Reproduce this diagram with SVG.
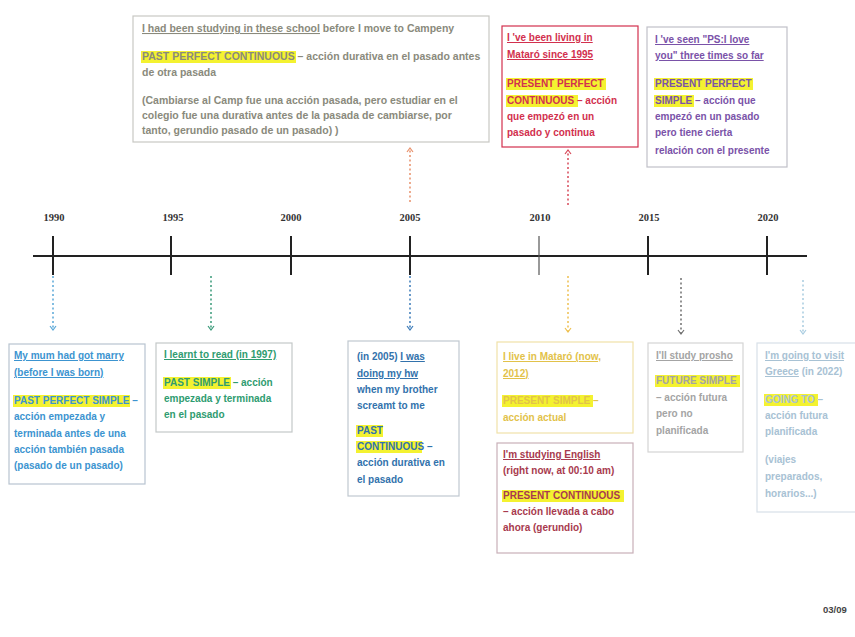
<svg xmlns="http://www.w3.org/2000/svg" width="855" height="637" viewBox="0 0 855 637">
<style>
  text { font-family: "Liberation Sans", Arial, sans-serif; font-size: 10px; font-weight: bold; }
  .yr { font-family: "Liberation Serif", "Times New Roman", serif; font-size: 10.5px; fill: #333; text-anchor: middle; }
  .box { fill: #ffffff; stroke-width: 1.2; }
  .hl { fill: #f4f230; }
  .u { text-decoration: underline; }
  .tick { stroke: #222; stroke-width: 2; }
  .conn { fill: none; stroke-width: 1.5; stroke-dasharray: 2 2.5; }
  .grey { fill: #8a8a7c; font-size: 10.5px; } .red { fill: #d2304e; } .purple { fill: #7a52a8; }
  .blue1 { fill: #3c94d0; } .green { fill: #2f9c70; } .blue2 { fill: #3272ac; }
  .gold { fill: #e2c24a; } .maroon { fill: #a83a4e; } .lgrey { fill: #a4a4a4; } .lblue { fill: #a8c2d4; }
</style>
<defs>
  <marker id="m-blue1" markerWidth="6" markerHeight="8" refX="5" refY="4" orient="auto" markerUnits="userSpaceOnUse" viewBox="0 0 6 8"><path d="M1,1 L5,4 L1,7" fill="none" stroke="#5aa8d8" stroke-width="1.2"/></marker>
  <marker id="m-green" markerWidth="6" markerHeight="8" refX="5" refY="4" orient="auto" markerUnits="userSpaceOnUse" viewBox="0 0 6 8"><path d="M1,1 L5,4 L1,7" fill="none" stroke="#3a9a7a" stroke-width="1.2"/></marker>
  <marker id="m-blue2" markerWidth="6" markerHeight="8" refX="5" refY="4" orient="auto" markerUnits="userSpaceOnUse" viewBox="0 0 6 8"><path d="M1,1 L5,4 L1,7" fill="none" stroke="#3a7ab8" stroke-width="1.2"/></marker>
  <marker id="m-yellow" markerWidth="6" markerHeight="8" refX="5" refY="4" orient="auto" markerUnits="userSpaceOnUse" viewBox="0 0 6 8"><path d="M1,1 L5,4 L1,7" fill="none" stroke="#eec050" stroke-width="1.2"/></marker>
  <marker id="m-grey" markerWidth="6" markerHeight="8" refX="5" refY="4" orient="auto" markerUnits="userSpaceOnUse" viewBox="0 0 6 8"><path d="M1,1 L5,4 L1,7" fill="none" stroke="#707070" stroke-width="1.2"/></marker>
  <marker id="m-lblue" markerWidth="6" markerHeight="8" refX="5" refY="4" orient="auto" markerUnits="userSpaceOnUse" viewBox="0 0 6 8"><path d="M1,1 L5,4 L1,7" fill="none" stroke="#a8cce0" stroke-width="1.2"/></marker>
  <marker id="m-orange" markerWidth="6" markerHeight="8" refX="5" refY="4" orient="auto" markerUnits="userSpaceOnUse" viewBox="0 0 6 8"><path d="M1,1 L5,4 L1,7" fill="none" stroke="#e8906a" stroke-width="1.2"/></marker>
  <marker id="m-red" markerWidth="6" markerHeight="8" refX="5" refY="4" orient="auto" markerUnits="userSpaceOnUse" viewBox="0 0 6 8"><path d="M1,1 L5,4 L1,7" fill="none" stroke="#d84a5a" stroke-width="1.2"/></marker>
</defs>
<rect width="855" height="637" fill="#ffffff"/>

<g id="timeline">
  <line x1="33" y1="256" x2="807" y2="256" stroke="#222" stroke-width="2"/>
  <line class="tick" x1="53" y1="236" x2="53" y2="275"/>
  <line class="tick" x1="171" y1="236" x2="171" y2="275"/>
  <line class="tick" x1="291" y1="236" x2="291" y2="275"/>
  <line class="tick" x1="410" y1="236" x2="410" y2="275"/>
  <line x1="539" y1="236" x2="539" y2="275" stroke="#555" stroke-width="1.2"/>
  <line class="tick" x1="648" y1="236" x2="648" y2="275"/>
  <line class="tick" x1="767" y1="236" x2="767" y2="275"/>
  <text class="yr" x="54" y="221">1990</text>
  <text class="yr" x="173" y="221">1995</text>
  <text class="yr" x="291" y="221">2000</text>
  <text class="yr" x="410" y="221">2005</text>
  <text class="yr" x="540" y="221">2010</text>
  <text class="yr" x="649" y="221">2015</text>
  <text class="yr" x="768" y="221">2020</text>
</g>

<g id="connectors">
  <line class="conn" x1="410" y1="202" x2="410" y2="148" stroke="#e8906a" marker-end="url(#m-orange)"/>
  <line class="conn" x1="568" y1="205" x2="568" y2="150" stroke="#d84a5a" marker-end="url(#m-red)"/>
  <line class="conn" x1="53" y1="276" x2="53" y2="330" stroke="#5aa8d8" marker-end="url(#m-blue1)"/>
  <line class="conn" x1="211" y1="276" x2="211" y2="330" stroke="#3a9a7a" marker-end="url(#m-green)"/>
  <line class="conn" x1="410" y1="276" x2="410" y2="330" stroke="#3a7ab8" marker-end="url(#m-blue2)"/>
  <line class="conn" x1="568" y1="276" x2="568" y2="332" stroke="#eec050" marker-end="url(#m-yellow)"/>
  <line class="conn" x1="681" y1="278" x2="681" y2="334" stroke="#707070" marker-end="url(#m-grey)"/>
  <line class="conn" x1="803" y1="280" x2="803" y2="334" stroke="#a8cce0" marker-end="url(#m-lblue)"/>
</g>

<g id="past-perfect-continuous">
  <rect class="box" x="133" y="16" width="356" height="126" stroke="#c8c8c4"/>
  <rect class="hl" x="141" y="51" width="155" height="12"/>
  <text class="grey" x="142" y="32"><tspan class="u">I  had been studying in these school</tspan> before I move to Campeny</text>
  <text class="grey" x="142" y="60">PAST PERFECT CONTINUOUS – acción durativa en el pasado antes</text>
  <text class="grey" x="142" y="76">de otra pasada</text>
  <text class="grey" x="142" y="104">(Cambiarse al Camp fue una acción pasada, pero estudiar en el</text>
  <text class="grey" x="142" y="119">colegio fue una durativa antes de la pasada de cambiarse, por</text>
  <text class="grey" x="142" y="134">tanto, gerundio pasado de un pasado) )</text>
</g>

<g id="present-perfect-continuous">
  <rect class="box" x="502" y="26" width="136" height="121" stroke="#d2304e"/>
  <rect class="hl" x="506" y="78" width="100" height="12"/>
  <rect class="hl" x="506" y="95" width="72" height="12"/>
  <text class="red" x="507" y="41"><tspan class="u">I 've been living in</tspan></text>
  <text class="red" x="507" y="58"><tspan class="u">Mataró since 1995</tspan></text>
  <text class="red" x="507" y="87">PRESENT PERFECT</text>
  <text class="red" x="507" y="104">CONTINUOUS – acción</text>
  <text class="red" x="507" y="120">que empezó en un</text>
  <text class="red" x="507" y="136">pasado y continua</text>
</g>

<g id="present-perfect-simple">
  <rect class="box" x="647" y="27" width="140" height="140" stroke="#c0c0c8"/>
  <rect class="hl" x="654" y="78" width="99" height="12"/>
  <rect class="hl" x="654" y="95" width="40" height="12"/>
  <text class="purple" x="655" y="43"><tspan class="u">I 've seen "PS:I love</tspan></text>
  <text class="purple" x="655" y="59"><tspan class="u">you" three times so far</tspan></text>
  <text class="purple" x="655" y="87">PRESENT PERFECT</text>
  <text class="purple" x="655" y="104">SIMPLE – acción que</text>
  <text class="purple" x="655" y="120">empezó en un pasado</text>
  <text class="purple" x="655" y="136">pero tiene cierta</text>
  <text class="purple" x="655" y="154">relación con el presente</text>
</g>

<g id="past-perfect-simple">
  <rect class="box" x="9" y="344" width="136" height="140" stroke="#b8c4d0"/>
  <rect class="hl" x="13" y="395" width="117" height="12"/>
  <text class="blue1" x="14" y="359"><tspan class="u">My mum had got marry</tspan></text>
  <text class="blue1" x="14" y="376"><tspan class="u">(before I was born)</tspan></text>
  <text class="blue1" x="14" y="404">PAST PERFECT SIMPLE –</text>
  <text class="blue1" x="14" y="420">acción empezada y</text>
  <text class="blue1" x="14" y="437">terminada antes de una</text>
  <text class="blue1" x="14" y="453">acción también pasada</text>
  <text class="blue1" x="14" y="469">(pasado de un pasado)</text>
</g>

<g id="past-simple">
  <rect class="box" x="156" y="343" width="136" height="89" stroke="#c4c8c8"/>
  <rect class="hl" x="163" y="377" width="68" height="12"/>
  <text class="green" x="164" y="358"><tspan class="u">I learnt to read (in 1997)</tspan></text>
  <text class="green" x="164" y="386">PAST SIMPLE – acción</text>
  <text class="green" x="164" y="402">empezada y terminada</text>
  <text class="green" x="164" y="418">en el pasado</text>
</g>

<g id="past-continuous">
  <rect class="box" x="348" y="341" width="111" height="155" stroke="#c0c8d0"/>
  <rect class="hl" x="356" y="425" width="27" height="12"/>
  <rect class="hl" x="356" y="441" width="66" height="12"/>
  <text class="blue2" x="357" y="360">(in 2005) <tspan class="u">I was</tspan></text>
  <text class="blue2" x="357" y="377"><tspan class="u">doing my hw</tspan></text>
  <text class="blue2" x="357" y="393">when my brother</text>
  <text class="blue2" x="357" y="409">screamt to me</text>
  <text class="blue2" x="357" y="434">PAST</text>
  <text class="blue2" x="357" y="450">CONTINUOUS –</text>
  <text class="blue2" x="357" y="466">acción durativa en</text>
  <text class="blue2" x="357" y="483">el pasado</text>
</g>

<g id="present-simple">
  <rect class="box" x="497" y="342" width="136" height="91" stroke="#f0e2a8"/>
  <rect class="hl" x="502" y="395" width="91" height="12"/>
  <text class="gold" x="503" y="360"><tspan class="u">I live in Mataró (now,</tspan></text>
  <text class="gold" x="503" y="377"><tspan class="u">2012)</tspan></text>
  <text class="gold" x="503" y="404">PRESENT SIMPLE –</text>
  <text class="gold" x="503" y="421">acción actual</text>
</g>

<g id="present-continuous">
  <rect class="box" x="497" y="443" width="136" height="110" stroke="#c8b0b8"/>
  <rect class="hl" x="502" y="490" width="122" height="12"/>
  <text class="maroon" x="503" y="458"><tspan class="u">I'm studying English</tspan></text>
  <text class="maroon" x="503" y="474">(right now, at 00:10 am)</text>
  <text class="maroon" x="503" y="499">PRESENT CONTINUOUS</text>
  <text class="maroon" x="503" y="515">– acción llevada a cabo</text>
  <text class="maroon" x="503" y="531">ahora (gerundio)</text>
</g>

<g id="future-simple">
  <rect class="box" x="648" y="343" width="95" height="109" stroke="#d4d4d4"/>
  <rect class="hl" x="655" y="375" width="85" height="12"/>
  <text class="lgrey" x="656" y="359"><tspan class="u">I'll study prosho</tspan></text>
  <text class="lgrey" x="656" y="384">FUTURE SIMPLE</text>
  <text class="lgrey" x="656" y="401">– acción futura</text>
  <text class="lgrey" x="656" y="417">pero no</text>
  <text class="lgrey" x="656" y="434">planificada</text>
</g>

<g id="going-to">
  <rect class="box" x="757" y="343" width="110" height="169" stroke="#d8e0e8"/>
  <rect class="hl" x="764" y="394" width="54" height="12"/>
  <text class="lblue" x="765" y="359"><tspan class="u">I'm going to visit</tspan></text>
  <text class="lblue" x="765" y="375"><tspan class="u">Greece</tspan> (in 2022)</text>
  <text class="lblue" x="765" y="403">GOING TO –</text>
  <text class="lblue" x="765" y="419">acción futura</text>
  <text class="lblue" x="765" y="435">planificada</text>
  <text class="lblue" x="765" y="463">(viajes</text>
  <text class="lblue" x="765" y="480">preparados,</text>
  <text class="lblue" x="765" y="497">horarios...)</text>
</g>

<g id="date">
  <text x="823" y="613" style="font-size:9.5px; fill:#444">03/09</text>
</g>
</svg>
